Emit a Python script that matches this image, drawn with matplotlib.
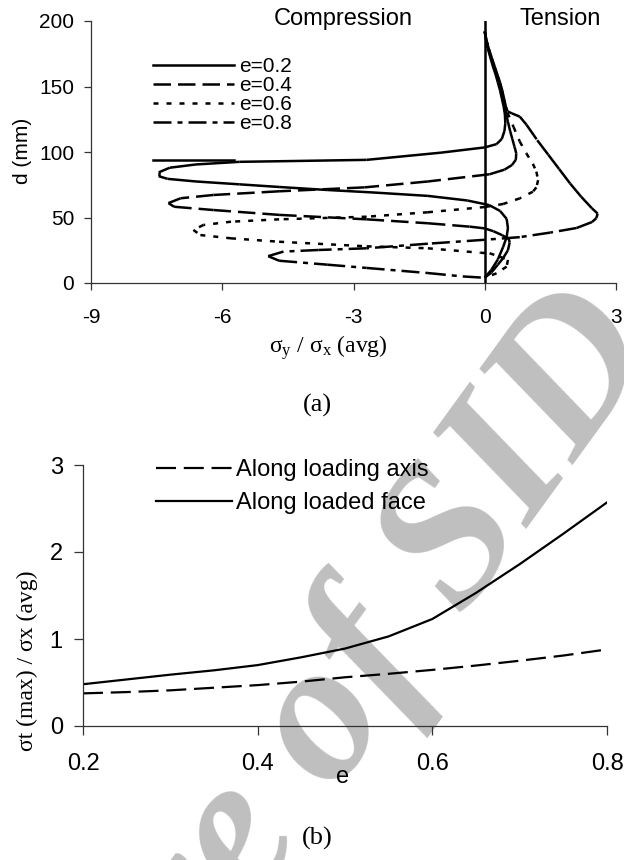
import matplotlib
matplotlib.use("Agg")
import matplotlib.pyplot as plt
from matplotlib.collections import LineCollection
from matplotlib.lines import Line2D

plt.rcParams['font.family'] = ['Liberation Sans', 'DejaVu Sans']
plt.rcParams['axes.unicode_minus'] = False
plt.rcParams['mathtext.fontset'] = 'custom'
plt.rcParams['mathtext.rm'] = 'Liberation Serif'
plt.rcParams['mathtext.it'] = 'Liberation Serif:italic'

# ---- (a) sigma_y / sigma_x(avg) against depth d (mm), each curve traced top -> bottom
labels_a = ['e=0.2', 'e=0.4', 'e=0.6', 'e=0.8']

s_02 = [0.0, 0.03, 0.07, 0.13, 0.19, 0.25, 0.30, 0.35, 0.39, 0.43, 0.46, 0.47, 0.45, 0.39, 0.27, 0.0,
        -1.0, -2.7, -4.2, -5.6, -6.6, -7.2, -7.45, -7.45, -7.25, -6.6, -5.6, -4.7, -3.6, -2.6, -1.3,
        -0.4, 0.1, 0.35, 0.5, 0.53, 0.5, 0.42, 0.3, 0.15, 0.0]
d_02 = [192, 185, 179, 172, 165, 159, 153, 147, 141, 135, 129, 122, 116, 110, 106, 103.5,
        99.5, 94, 93.2, 92.5, 90.5, 88, 84.5, 81.5, 79.5, 77.5, 75.3, 73.3, 71, 69.2, 66.5,
        63, 59.5, 55, 49, 42, 35, 27.5, 18, 10, 4]

s_04 = [0.0, 0.04, 0.08, 0.14, 0.21, 0.27, 0.32, 0.37, 0.41, 0.45, 0.49, 0.53, 0.58, 0.63, 0.68, 0.72,
        0.71, 0.62, 0.45, 0.11,
        -1.3, -2.75, -4.7, -6.2, -6.95, -7.23, -7.1, -6.2, -4.7, -2.7, -1.3, -0.34, 0.0,
        0.2, 0.4, 0.55, 0.57, 0.53, 0.42, 0.3, 0.15, 0.0]
d_04 = [192, 185, 179, 172, 165, 159, 153, 147, 141, 135, 129, 123, 116, 110, 104, 99,
        94, 90, 86.5, 83,
        77.5, 73, 70, 67.2, 64.7, 61, 58.2, 55.7, 52, 48.6, 45.6, 43, 41.7,
        39.5, 36.5, 33.5, 31, 25, 19, 14, 8, 4]

s_06 = [0.0, 0.04, 0.09, 0.15, 0.22, 0.28, 0.34, 0.39, 0.43, 0.47, 0.52,
        0.66, 0.8, 0.95, 1.1, 1.18, 1.22, 1.18, 1.1, 0.8, 0.42, 0.0,
        -1.3, -2.7, -4.7, -5.8, -6.43, -6.66, -6.5, -5.8, -4.7, -2.7, -1.3, -0.1,
        0.11, 0.35, 0.53, 0.5, 0.27, 0.0]
d_06 = [192, 185, 179, 172, 165, 159, 153, 147, 141, 135, 130,
        119, 108, 99, 91, 85, 78.5, 73, 69.7, 64.6, 60.3, 58,
        54, 50.6, 48.6, 46.8, 44.3, 40.5, 36.6, 34.1, 31.5, 28, 26.5, 23.1,
        22.7, 20, 17.6, 12.5, 7.4, 4]

s_08 = [0.0, 0.04, 0.09, 0.16, 0.23, 0.29, 0.35, 0.40, 0.44, 0.48, 0.52, 0.62, 0.8, 0.95,
        1.2, 1.45, 1.7, 1.95, 2.2, 2.45, 2.58,
        2.55, 2.45, 2.1, 1.5, 0.8, 0.0, -1.3, -2.7, -3.8, -4.6, -4.95, -4.7, -3.6, -2.7,
        -1.3, -0.5, 0.0]
d_08 = [192, 185, 179, 172, 165, 159, 153, 147, 141, 135, 131, 129.5, 127, 121,
        109, 98, 87, 76, 66, 57, 53,
        49.5, 46.5, 42, 38.5, 35, 33, 30, 26.5, 25.2, 24, 20.5, 17, 14, 11.5,
        7.6, 5, 4]

curves_a = [(s_02, d_02), (s_04, d_04), (s_06, d_06), (s_08, d_08)]
styles_a = ['-', (0, (7, 2.8)), (0, (2, 3.2)), (0, (7.2, 2.4, 2, 2.4))]

# ---- (b) max tension ratio against eccentricity
e_vals = [0.2, 0.25, 0.3, 0.35, 0.4, 0.45, 0.5, 0.55, 0.6, 0.65, 0.7, 0.75, 0.8]
axis_vals = [0.375, 0.39, 0.41, 0.44, 0.47, 0.51, 0.56, 0.60, 0.645, 0.695, 0.75, 0.81, 0.88]
face_vals = [0.48, 0.535, 0.59, 0.64, 0.70, 0.79, 0.89, 1.03, 1.23, 1.53, 1.86, 2.21, 2.57]
labels_b = ['Along loading axis', 'Along loaded face']

W, H = 624, 860
fig = plt.figure(figsize=(W / 100, H / 100), dpi=100)
fig.patch.set_facecolor('white')


def fx(px):
    return px / W


def fy(py):
    return 1 - py / H


def style_axes(ax, tick_len, fs, xpad, ypad):
    ax.patch.set_visible(False)
    for s in ['top', 'right']:
        ax.spines[s].set_visible(False)
    for s in ['left', 'bottom']:
        ax.spines[s].set_linewidth(0.9)
        ax.spines[s].set_color('#333333')
    ax.tick_params(direction='out', length=tick_len, width=0.9, color='#333333', labelsize=fs)
    ax.tick_params(axis='x', pad=xpad)
    ax.tick_params(axis='y', pad=ypad)


# top panel
ax1 = fig.add_axes([fx(91), fy(283), fx(616) - fx(91), fy(21) - fy(283)])
ax1.set_xlim(-9, 3)
ax1.set_ylim(0, 200)
ax1.set_xticks([-9, -6, -3, 0, 3])
ax1.set_yticks([0, 50, 100, 150, 200])
style_axes(ax1, 5, 15, 13, 7)

ax1.axvline(0, color='k', lw=1.8, zorder=3)
for (s, d), ls in zip(curves_a, styles_a):
    # one segment per pair of points, so the dash pattern restarts at every point
    segs = [[(s[i], d[i]), (s[i + 1], d[i + 1])] for i in range(len(s) - 1)]
    lc = LineCollection(segs, colors='k', linewidths=1.8, linestyles=ls, capstyle='butt')
    ax1.add_collection(lc)

handles = [Line2D([], [], color='k', lw=1.8, ls=ls) for ls in styles_a]
handles += [Line2D([], [], color='none'), Line2D([], [], color='k', lw=1.8)]
ax1.legend(handles, labels_a + ['', ''], loc='upper left',
           bbox_to_anchor=(fx(153), fy(57)), bbox_transform=fig.transFigure,
           frameon=False, fontsize=15, borderpad=0, borderaxespad=0,
           handlelength=3.9, handletextpad=0.25, labelspacing=0.0)

fig.text(fx(343), fy(19), 'Compression', ha='center', va='center', fontsize=17)
fig.text(fx(560), fy(19), 'Tension', ha='center', va='center', fontsize=17)
fig.text(fx(22), fy(151), 'd (mm)', ha='center', va='center', rotation=90, fontsize=15)
fig.text(fx(328), fy(348), r'σ$_\mathrm{y}$ / σ$_\mathrm{x}$ (avg)', ha='center', va='center',
         fontsize=17, family='Liberation Serif')
fig.text(fx(317), fy(405), '(a)', ha='center', va='center', fontsize=19, family='Liberation Serif')

# bottom panel
ax2 = fig.add_axes([fx(83), fy(726), fx(607) - fx(83), fy(465) - fy(726)])
ax2.set_xlim(0.2, 0.8)
ax2.set_ylim(0, 3)
ax2.set_xticks([0.2, 0.4, 0.6, 0.8])
ax2.set_xticklabels(['0.2', '0.4', '0.6', '0.8'])
ax2.set_yticks([0, 1, 2, 3])
style_axes(ax2, 6.5, 17, 13, 8)

ax2.plot(e_vals, axis_vals, color='k', lw=1.6, ls=(0, (9, 3.5)), label=labels_b[0])
ax2.plot(e_vals, face_vals, color='k', lw=1.6, ls='-', label=labels_b[1])
ax2.legend(loc='upper left', bbox_to_anchor=(fx(156), fy(459)), bbox_transform=fig.transFigure,
           frameon=False, fontsize=17, borderpad=0, borderaxespad=0,
           handlelength=3.2, handletextpad=0.17, labelspacing=0.46)

fig.text(fx(343), fy(777), 'e', ha='center', va='center', fontsize=17)
fig.text(fx(27), fy(661), 'σt (max) / σx (avg)', ha='center', va='center', rotation=90,
         fontsize=17, family='Liberation Serif')
fig.text(fx(317), fy(838), '(b)', ha='center', va='center', fontsize=19, family='Liberation Serif')

# source watermark, behind the charts
fig.text(fx(256), fy(832), 'Archive of SID', ha='center', va='center', rotation=54,
         rotation_mode='anchor', fontsize=145, family='Liberation Serif', style='italic',
         weight='bold', color='#bfbfbf', zorder=-5)

fig.savefig('out.png', dpi=100)
